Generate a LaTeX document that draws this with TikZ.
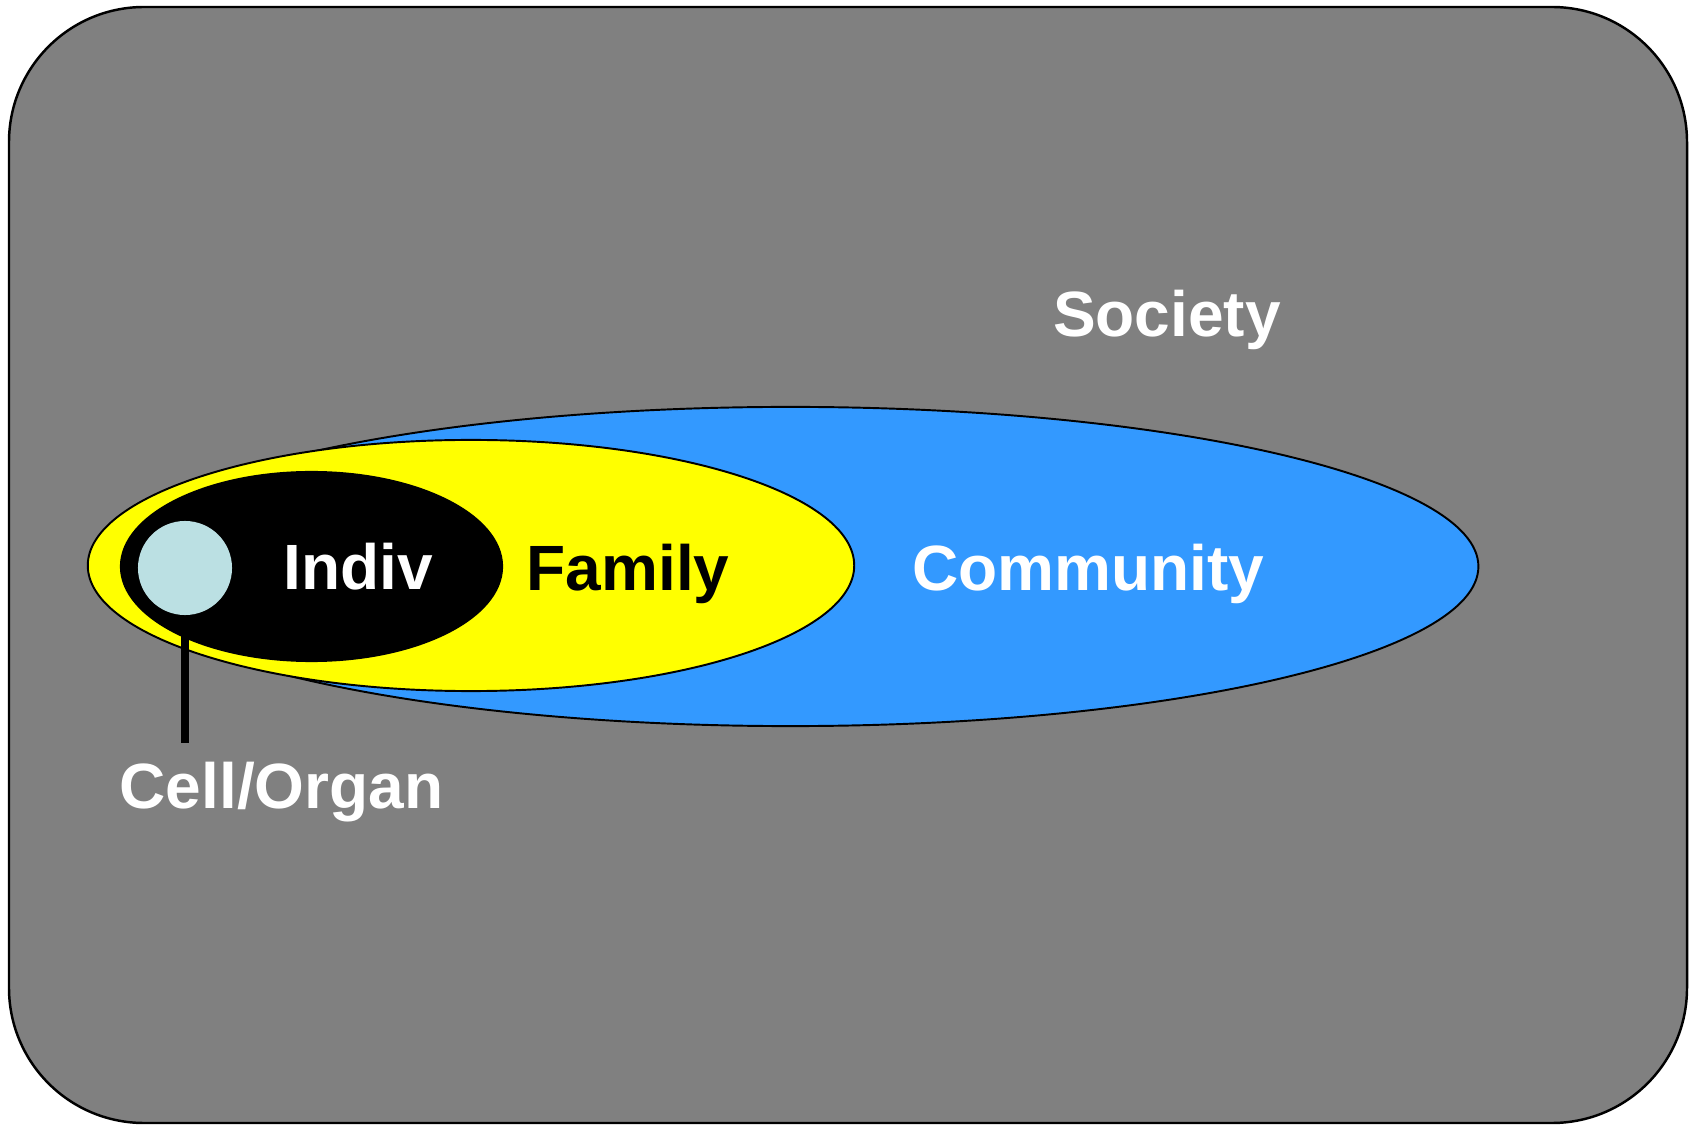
\documentclass[tikz,border=0pt]{standalone}
\usepackage{fontspec}
\usepackage{tikz}
\usepackage{xcolor}
\usetikzlibrary{shapes.geometric, positioning}
\setmainfont{Liberation Sans}

\definecolor{societygray}{HTML}{808080}
\definecolor{communityblue}{HTML}{3399FF}
\definecolor{familyyellow}{HTML}{FFFF00}
\definecolor{cellblue}{HTML}{BBE0E3}

\tikzset{
    level/.style={ellipse, draw, line width=0.55pt, inner sep=0pt},
    levellabel/.style={anchor=base, inner sep=0pt, font=\fontsize{18.2}{20}\selectfont\bfseries},
}

\begin{document}
\begin{tikzpicture}[x=0.01cm, y=-0.01cm]
                    \useasboundingbox (0, 0) rectangle (1691, 1125);
                    \draw[fill=societygray, line width=0.7pt, rounded corners=1.35cm] (9, 7) rectangle (1687, 1123);

                    \node[level, fill=communityblue, minimum width=13.75cm, minimum height=3.19cm] (community) at (790.5, 566.5) {};
                    \node[level, fill=familyyellow, minimum width=7.66cm, minimum height=2.51cm] (family) at (471, 565.5) {};
                    \node[ellipse, fill=black, inner sep=0pt, minimum width=3.83cm, minimum height=1.91cm] (indiv) at (311.5, 566.5) {};
                    \node[circle, fill=cellblue, inner sep=0pt, minimum size=0.94cm] (cell) at (185, 568) {};
                    \coordinate (cellend) at (185, 743);
                    \draw[line width=2pt] (cell.south) -- (cellend);

                    \node[levellabel, white] (societytext) at (1167, 337) {Society};
                    \node[levellabel, white] (communitytext) at (1088, 591) {Community};
                    \node[levellabel, black] (familytext) at (628, 591) {Family};
                    \node[levellabel, white] (indivtext) at (358.5, 590) {Indiv};
                    \node[levellabel, white] (celltext) at (281.5, 808) {Cell/Organ};
                \end{tikzpicture}
\end{document}
